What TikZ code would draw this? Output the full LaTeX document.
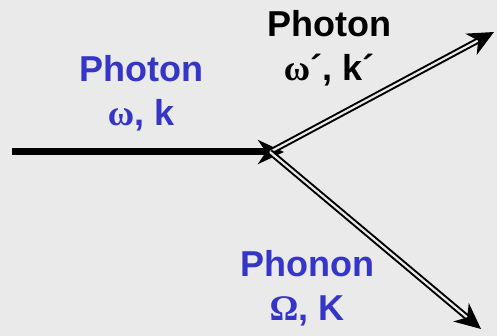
\documentclass[tikz,border=0pt]{standalone}
\usepackage{fontspec}
\setmainfont{Liberation Sans}
\newfontfamily\greekfont{Liberation Serif}
\usepackage{tikz}
\usetikzlibrary{positioning,arrows.meta}
\usepackage{xcolor}
\definecolor{bggray}{HTML}{EAEAEA}
\definecolor{labblue}{HTML}{3535C8}
\newcommand{\gk}[1]{{\greekfont #1}}

\begin{document}
\begin{tikzpicture}[x=1pt, y=-1pt, >={Stealth[length=26pt,width=24pt,inset=8pt]}]
    \tikzset{
        lab/.style={font=\fontsize{36}{44}\selectfont\bfseries, align=center, inner sep=0pt},
        beam/.style={->, line width=7pt},
        wave/.style={->, double=bggray, double distance=2.2pt, line width=2pt}
    }
    \fill[bggray] (0,0) rectangle (497,336);
    \useasboundingbox (0,0) rectangle (497,336);

    % Vertex and free ends
    \coordinate (src) at (12,152);
    \coordinate (vtx) at (284,152);
    \coordinate (hit) at (270,152);
    \coordinate (out) at (494,32);
    \coordinate (pho) at (481,329);

    % Labels
    \node[lab, labblue] (inlab) at (141,93) {Photon\\\gk{ω}, k};
    \node[lab] (outlab) at (329,48) {Photon\\\gk{ω}´, k´};
    \node[lab, labblue] (phlab) at (307,288) {Phonon\\\gk{Ω}, K};

    % Incoming photon
    \draw[beam] (src) -- (vtx);

    % Scattered photon and phonon
    \draw[wave] (hit) -- (out);
    \draw[wave] (hit) -- (pho);
\end{tikzpicture}
\end{document}
